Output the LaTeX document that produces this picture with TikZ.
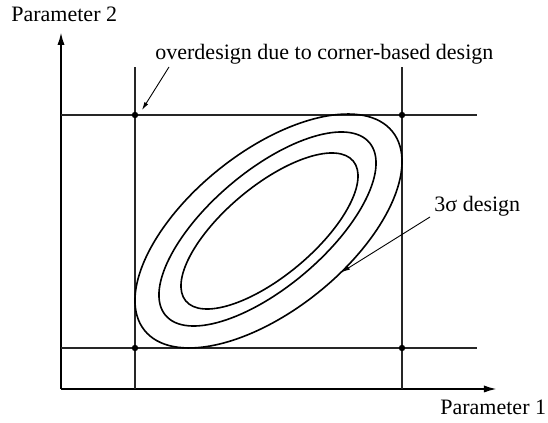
\documentclass[tikz,border=0pt]{standalone}
\usepackage{fontspec}
\setmainfont{Liberation Serif}
\usetikzlibrary{arrows.meta}
\begin{document}
\begin{tikzpicture}[x=0.5pt,y=0.5pt,
  axis/.style={line width=1pt,-{Latex[length=6.5pt,width=3.6pt]}},
  gridline/.style={line width=0.95pt,draw=black!85},
  contour/.style={line width=0.8pt},
  pointer/.style={line width=0.45pt,-{Latex[length=4pt,width=2.2pt]}},
  corner/.style={circle,fill=black,inner sep=0pt,minimum size=3.2pt},
  lbl/.style={inner sep=0pt,anchor=base west,font=\fontsize{11}{13}\selectfont}]
\useasboundingbox (0,0) rectangle (548,423);
% axes
\coordinate (O) at (61,34);
\coordinate (Ytip) at (61,391);
\coordinate (Xtip) at (497,34);
\draw[axis] (O) -- (Ytip);
\draw[axis] (O) -- (Xtip);
% grid lines
\coordinate (v1b) at (135,34); \coordinate (v1t) at (135,356);
\coordinate (v2b) at (402,34); \coordinate (v2t) at (402,356);
\coordinate (h1l) at (61,308); \coordinate (h1r) at (477,308);
\coordinate (h2l) at (61,75);  \coordinate (h2r) at (477,75);
\draw[gridline] (v1b) -- (v1t);
\draw[gridline] (v2b) -- (v2t);
\draw[gridline] (h1l) -- (h1r);
\draw[gridline] (h2l) -- (h2r);
% corner dots
\node[corner] (c1) at (135,308) {};
\node[corner] (c2) at (402,308) {};
\node[corner] (c3) at (135,75) {};
\node[corner] (c4) at (402,75) {};
% ellipses
\draw[contour] (268.5,192) ellipse[x radius=158.9,y radius=79.1,rotate=38.7];
\draw[contour] (267.5,194) ellipse[x radius=133.6,y radius=57.8,rotate=40.3];
\draw[contour] (269.5,192) ellipse[x radius=109.1,y radius=44.9,rotate=39.9];
% labels
\node[lbl] (p2) at (11,401) {Parameter 2};
\node[lbl] (p1) at (440,8) {Parameter 1};
\node[lbl] (over) at (155,363) {overdesign due to corner-based design};
\node[lbl] (sig) at (434,211) {3σ design};
% pointers
\coordinate (a1s) at (169,356);
\coordinate (a1e) at (142,313);
\coordinate (a2s) at (430,206);
\coordinate (a2e) at (342,151);
\draw[pointer] (a1s) -- (a1e);
\draw[pointer] (a2s) -- (a2e);
\end{tikzpicture}
\end{document}
